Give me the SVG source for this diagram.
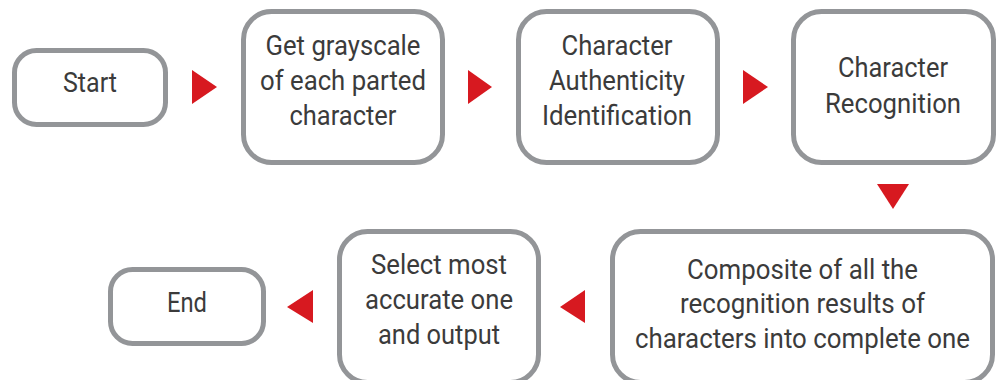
<svg xmlns="http://www.w3.org/2000/svg" width="1005" height="380" viewBox="0 0 1005 380">
<style>
.box{fill:#ffffff;stroke:#939598;stroke-width:5}
.t{font-family:Roboto,"Liberation Sans",sans-serif;font-size:28px;fill:#3b3b3b;text-anchor:middle}
.arr{fill:#d71920}
</style>
<rect width="1005" height="380" fill="#ffffff"/>
<g id="start"><rect class="box" x="14.5" y="50.5" width="151" height="74" rx="22"/><text class="t" x="90" y="92" textLength="54" lengthAdjust="spacingAndGlyphs">Start</text></g>
<g id="grayscale"><rect class="box" x="243.5" y="11.5" width="199" height="151" rx="28"/>
<text class="t" x="343" y="55" textLength="155" lengthAdjust="spacingAndGlyphs">Get grayscale</text>
<text class="t" x="343" y="90" textLength="166" lengthAdjust="spacingAndGlyphs">of each parted</text>
<text class="t" x="343" y="125" textLength="107" lengthAdjust="spacingAndGlyphs">character</text></g>
<g id="authenticity"><rect class="box" x="518.5" y="11.5" width="199" height="151" rx="28"/>
<text class="t" x="617" y="55" textLength="111" lengthAdjust="spacingAndGlyphs">Character</text>
<text class="t" x="617" y="90" textLength="136" lengthAdjust="spacingAndGlyphs">Authenticity</text>
<text class="t" x="617" y="125" textLength="150" lengthAdjust="spacingAndGlyphs">Identification</text></g>
<g id="recognition"><rect class="box" x="793.5" y="11.5" width="200" height="151" rx="28"/>
<text class="t" x="893" y="77" textLength="110" lengthAdjust="spacingAndGlyphs">Character</text>
<text class="t" x="893" y="113" textLength="136" lengthAdjust="spacingAndGlyphs">Recognition</text></g>
<g id="composite"><rect class="box" x="612.5" y="231.5" width="380" height="151" rx="28"/>
<text class="t" x="802.5" y="279" textLength="231" lengthAdjust="spacingAndGlyphs">Composite of all the</text>
<text class="t" x="802.5" y="313" textLength="245" lengthAdjust="spacingAndGlyphs">recognition results of</text>
<text class="t" x="802.5" y="348" textLength="335" lengthAdjust="spacingAndGlyphs">characters into complete one</text></g>
<g id="select"><rect class="box" x="339.5" y="231.5" width="199" height="151" rx="28"/>
<text class="t" x="439" y="274" textLength="136" lengthAdjust="spacingAndGlyphs">Select most</text>
<text class="t" x="439" y="309" textLength="148" lengthAdjust="spacingAndGlyphs">accurate one</text>
<text class="t" x="439" y="344" textLength="122" lengthAdjust="spacingAndGlyphs">and output</text></g>
<g id="end"><rect class="box" x="110.5" y="269.5" width="153" height="74" rx="22"/><text class="t" x="187" y="312" textLength="40" lengthAdjust="spacingAndGlyphs">End</text></g>
<g id="connectors">
<polygon class="arr" points="192,70 217,87 192,104"/>
<polygon class="arr" points="468,70 492,87 468,104"/>
<polygon class="arr" points="743,70 768,87 743,104"/>
<polygon class="arr" points="877,184 909,184 893,209"/>
<polygon class="arr" points="585,290 560,307 585,323"/>
<polygon class="arr" points="313,290 287,307 313,323"/>
</g>
</svg>
